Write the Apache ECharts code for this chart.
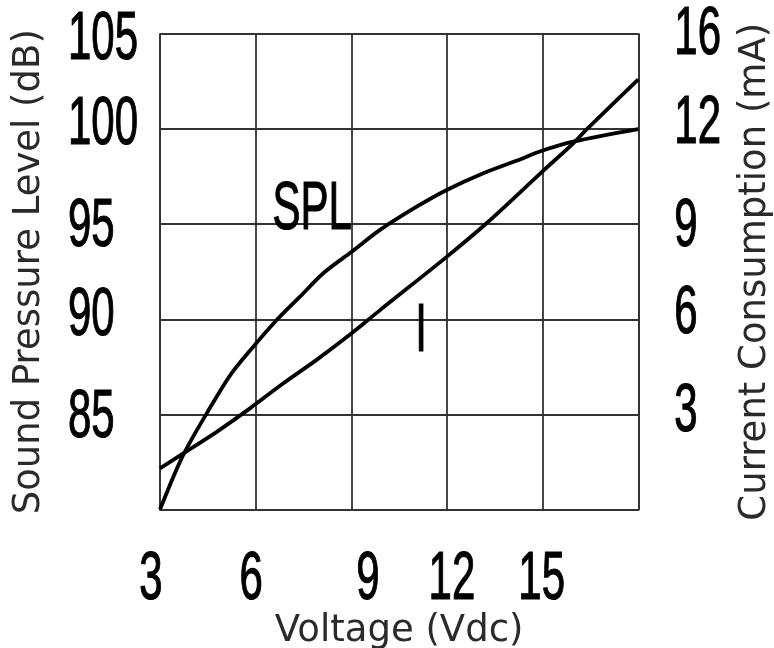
<!DOCTYPE html>
<html><head><meta charset="utf-8">
<script src="https://cdn.jsdelivr.net/npm/echarts@6/dist/echarts.min.js"></script>
<style>html,body{margin:0;padding:0;background:#fff}#c{width:774px;height:648px}</style>
</head><body><div id="c"></div>
<script>
// ---- data ----
const voltageTickValues = [3, 6, 9, 12, 15, 18];
const voltageTickLabels = ['3', '6', '9', '12', '15', ''];
const splTickValues = [80, 85, 90, 95, 100, 105];
const splTickLabels = ['', '85', '90', '95', '100', '105'];
const currentTickValues = [0, 3, 6, 9, 12, 15];
const currentTickLabels = ['', '3', '6', '9', '12', '16'];

const splVoltage = [3, 3.73, 4.62, 5.21, 5.82, 6.66, 7.39, 8.12, 9.01, 9.90, 11.05, 11.99, 13.14, 14.2, 14.98, 15.96, 18.0];
const splValues  = [80, 82.87, 85.49, 87.08, 88.35, 89.96, 91.19, 92.42, 93.55, 94.70, 95.92, 96.80, 97.68, 98.35, 98.86, 99.34, 100.0];
const currentVoltage = [3, 3.73, 4.78, 5.82, 6.87, 7.91, 9.01, 9.90, 11.99, 13.24, 14.99, 15.96, 16.38, 18.0];
const currentValues  = [1.30, 1.77, 2.45, 3.19, 3.98, 4.72, 5.56, 6.29, 7.97, 9.03, 10.66, 11.55, 11.99, 13.57];

const splLabelAt = [7.77, 95.75];      // voltage, dB
const currentLabelAt = [11.19, 5.60];  // voltage, mA

// ---- styling / layout ----
const NAME_FONT = '"DejaVu Sans", Verdana, sans-serif';
const gridLine = { color: '#333', width: 1.8 };
const nameFont = { fontFamily: NAME_FONT, fontSize: 37, color: '#2a2a2a' };
// tall condensed look of the original: sans stretched vertically
const TALL = { fontFamily: '"Liberation Sans", Arial, sans-serif', fontWeight: 'normal', fontSize: 42, scaleY: 1.64, stroke: 0.7 };
const xLabelShift = [-9, -4.5, 16.7, 5, -1, 0];
const leftLabelNudge = [0, 4, -3, 3, -4, 6];
const rightLabelNudge = [0, -2.5, -5.5, 3, -5.5, 1];

const chart = echarts.init(document.getElementById('c'), null, { renderer: 'canvas' });
chart.setOption({
  animation: false,
  backgroundColor: '#fff',
  grid: { left: 160, right: 135.7, top: 34, bottom: 138.5, containLabel: false, outerBoundsMode: 'none' },
  xAxis: {
    type: 'value', min: 3, max: 18, interval: 3,
    name: 'Voltage (Vdc)', nameLocation: 'middle', nameGap: 103, nameTextStyle: nameFont, nameMoveOverlap: false,
    axisLine: { show: true, lineStyle: gridLine },
    axisTick: { show: false },
    splitLine: { show: true, lineStyle: gridLine },
    axisLabel: { show: false }
  },
  yAxis: [
    {
      type: 'value', min: 80, max: 105, interval: 5, position: 'left',
      name: 'Sound Pressure Level (dB)', nameLocation: 'middle', nameRotate: 90, nameGap: 112,
      nameTextStyle: nameFont, nameMoveOverlap: false,
      axisLine: { show: true, lineStyle: gridLine },
      axisTick: { show: false },
      splitLine: { show: true, lineStyle: gridLine },
      axisLabel: { show: false }
    },
    {
      type: 'value', min: 0, max: 15, interval: 3, position: 'right',
      name: 'Current Consumption (mA)', nameLocation: 'middle', nameRotate: 90, nameGap: 99,
      nameTextStyle: nameFont, nameMoveOverlap: false,
      axisLine: { show: true, lineStyle: gridLine },
      axisTick: { show: false },
      splitLine: { show: false },
      axisLabel: { show: false }
    }
  ],
  series: [
    {
      name: 'SPL', type: 'line', yAxisIndex: 0, smooth: 0.3, showSymbol: false, silent: true,
      lineStyle: { color: '#000', width: 3.8 },
      data: splVoltage.map((v, i) => [v, splValues[i]])
    },
    {
      name: 'I', type: 'line', yAxisIndex: 1, smooth: 0.3, showSymbol: false, silent: true,
      lineStyle: { color: '#000', width: 3.8 },
      data: currentVoltage.map((v, i) => [v, currentValues[i]])
    }
  ]
});

// tick labels and curve captions, placed through the chart's own scales
function tallText(text, x, y, align) {
  return {
    type: 'text', x: x, y: y, scaleY: TALL.scaleY, silent: true, z: 100,
    style: {
      text: text, fill: '#000', stroke: '#000', lineWidth: TALL.stroke,
      align: align, verticalAlign: 'middle',
      fontFamily: TALL.fontFamily, fontWeight: TALL.fontWeight, fontSize: TALL.fontSize
    }
  };
}
const px = (finder, v) => chart.convertToPixel(finder, v);
const xAx = { xAxisIndex: 0 }, yL = { yAxisIndex: 0 }, yR = { yAxisIndex: 1 };
const plotBottom = px(yL, 80);
const plotLeft = px(xAx, 3);
const plotRight = px(xAx, 18);
const els = [];
voltageTickValues.forEach((v, i) => {
  if (voltageTickLabels[i]) els.push(tallText(voltageTickLabels[i], px(xAx, v) + xLabelShift[i], plotBottom + 71, 'center'));
});
splTickValues.forEach((v, i) => {
  if (splTickLabels[i]) els.push(tallText(splTickLabels[i], plotLeft - 92, px(yL, v) + leftLabelNudge[i], 'left'));
});
currentTickValues.forEach((v, i) => {
  if (currentTickLabels[i]) els.push(tallText(currentTickLabels[i], plotRight + 36, px(yR, v) + rightLabelNudge[i], 'left'));
});
const splPt = chart.convertToPixel({ xAxisIndex: 0, yAxisIndex: 0 }, splLabelAt);
const iPt = chart.convertToPixel({ xAxisIndex: 0, yAxisIndex: 1 }, currentLabelAt);
els.push(tallText('SPL', splPt[0], splPt[1], 'center'));
els.push(tallText('I', iPt[0], iPt[1], 'center'));
chart.setOption({ graphic: els });
</script>
</body></html>
